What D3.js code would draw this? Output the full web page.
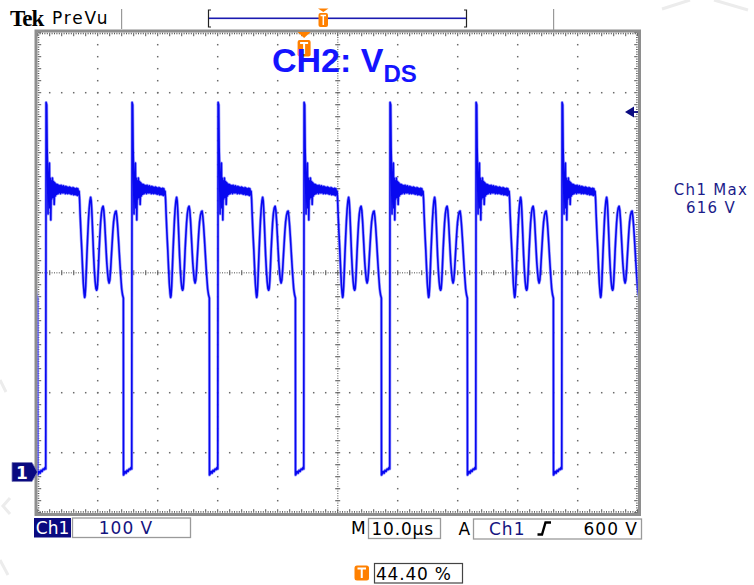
<!DOCTYPE html>
<html><head><meta charset="utf-8">
<script src="https://cdn.jsdelivr.net/npm/d3@7"></script>
<style>html,body{margin:0;padding:0;background:#fff;} svg{display:block;}</style>
</head><body>
<svg id="c" width="754" height="585"></svg>
<script>
// ---------------- data ----------------
const timeDomain = [-44.4, 55.6];      // µs : 10 div x 10.0 µs, trigger at 44.40 %
const voltDomain = [-67.8, 732.2];     // V  : 8 div x 100 V, ground at marker "1"
const xDivisions = 10, yDivisions = 8;
// rising edges of the drain-source voltage (µs)
const cycleStarts = [-57.33, -43.0, -28.67, -14.33, 0.0, 14.33, 28.67, 43.0];
// one switching cycle, time offset from rising edge (µs)
const cycleT = [-0.06, 0, 0.1, 0.17, 0.25, 0.32, 0.4, 0.47, 0.55, 0.62, 0.7, 0.78, 0.87, 0.95, 1.05, 1.15, 1.25, 1.35, 1.45, 1.55, 1.65, 1.77, 1.9,
  2.0, 2.1, 2.2, 2.3, 2.4, 2.5, 2.6, 2.7, 2.8, 2.9, 3.0, 3.1, 3.2, 3.3, 3.4, 3.5, 3.6, 3.7, 3.8, 3.9,
  4.0, 4.1, 4.2, 4.3, 4.4, 4.5, 4.6, 4.7, 4.8, 4.9, 5.0, 5.1, 5.2, 5.3, 5.4, 5.5,
  5.58, 5.67, 5.8, 5.95, 6.08, 6.2, 6.33, 6.42, 6.5, 6.6, 6.7, 6.8, 6.92, 7.05, 7.17, 7.3, 7.42, 7.52, 7.62, 7.72, 7.82, 7.92,
  8.05, 8.17, 8.3, 8.42, 8.52, 8.62, 8.72, 8.83, 8.95, 9.08, 9.2, 9.35, 9.5, 9.62, 9.75, 9.87, 10.0, 10.12, 10.25, 10.37, 10.5,
  10.62, 10.75, 10.87, 11.0, 11.12, 11.25, 11.4, 11.55, 11.67, 11.8, 11.92, 12.05, 12.17, 12.3, 12.45, 12.6, 12.75, 12.88,
  12.9, 13.0, 13.17, 13.33, 13.5, 13.67, 13.83, 14.0, 14.17, 14.25];
// drain-source voltage for the same points (V)
const cycleV = [5, 616, 612, 540, 505, 430, 500, 455, 515, 440, 490, 420, 485, 455, 490, 458, 484, 446, 482, 460, 480, 463, 479,
  464, 478, 466, 477, 464, 478, 466, 476, 465, 477, 466, 475, 464, 476, 465, 475, 464, 474, 465, 475,
  464, 474, 463, 473, 464, 474, 462, 473, 463, 472, 462, 473, 461, 472, 462, 468,
  455, 430, 400, 370, 340, 315, 298, 291, 294, 310, 335, 362, 390, 418, 438, 452, 458, 452, 435, 410, 385, 360,
  335, 318, 306, 303, 306, 320, 342, 368, 392, 415, 430, 440, 443, 436, 418, 395, 370, 348, 332, 320, 315,
  320, 336, 358, 380, 400, 417, 428, 434, 435, 425, 410, 390, 370, 348, 325, 305, 295, 290,
  -5, -3, 1, -2, 3, 1, 5, 4, 8, 7];
const trigLevelV = 600;
const titleMain = "CH2: V", titleSub = "DS";
const maxLabel = ["Ch1 Max", "616 V"];
const ch1Label = "Ch1", ch1Scale = "100 V";
const timeBase = "10.0µs", trigSource = "Ch1", trigLevelLabel = "600 V", trigPos = "44.40 %";

// ---------------- drawing ----------------
const svg = d3.select("#c");
const X0 = 37.7, X1 = 637.7, Y0 = 32.7, Y1 = 512.7;
const x = d3.scaleLinear().domain(timeDomain).range([X0, X1]);
const y = d3.scaleLinear().domain(voltDomain).range([Y1, Y0]);
const xd = d3.scaleLinear().domain([0, xDivisions]).range([X0, X1]);
const yd = d3.scaleLinear().domain([0, yDivisions]).range([Y1, Y0]);

// faint background artefacts
const bg = svg.append("g").attr("stroke", "#ececec").attr("stroke-width", 3).attr("fill", "none");
bg.append("path").attr("d", "M662,9 L690,0 M714,0 L748,10");
bg.append("path").attr("d", "M10,498 L3,506 L10,514 M0,560 L8,575 M0,380 L6,392");

// grid dots
const grid = svg.append("g").attr("fill", "#6a6a6a");
for (let k = 1; k < xDivisions; k++) {
  if (k === xDivisions / 2) continue;
  for (let j = 1; j < yDivisions * 5; j++) {
    grid.append("rect").attr("x", xd(k) - 0.75).attr("y", yd(j / 5) - 0.75).attr("width", 1.5).attr("height", 1.5);
  }
}
for (let k = 1; k < yDivisions; k++) {
  if (k === yDivisions / 2) continue;
  for (let j = 1; j < xDivisions * 5; j++) {
    grid.append("rect").attr("x", xd(j / 5) - 0.75).attr("y", yd(k) - 0.75).attr("width", 1.5).attr("height", 1.5);
  }
}
// centre cross lines (dense dots + ticks)
const cx = xd(xDivisions / 2), cy = yd(yDivisions / 2);
for (let j = 0; j <= xDivisions * 25; j++) {
  grid.append("rect").attr("x", xd(j / 25) - 0.5).attr("y", cy - 0.5).attr("width", 1).attr("height", 1.2);
}
for (let j = 0; j <= yDivisions * 25; j++) {
  grid.append("rect").attr("x", cx - 0.5).attr("y", yd(j / 25) - 0.5).attr("width", 1.2).attr("height", 1);
}
for (let j = 1; j < xDivisions * 5; j++) {
  grid.append("rect").attr("x", xd(j / 5) - 0.6).attr("y", cy - 2.5).attr("width", 1.2).attr("height", 5);
}
for (let j = 1; j < yDivisions * 5; j++) {
  grid.append("rect").attr("x", cx - 2.5).attr("y", yd(j / 5) - 0.6).attr("width", 5).attr("height", 1.2);
}
// border ticks
const bt = svg.append("g").attr("fill", "#555");
for (let j = 0; j <= xDivisions * 25; j++) {
  const major = j % 5 === 0, L = major ? 3.5 : 1.6;
  bt.append("rect").attr("x", xd(j / 25) - 0.5).attr("y", Y0).attr("width", 1).attr("height", L);
  bt.append("rect").attr("x", xd(j / 25) - 0.5).attr("y", Y1 - L).attr("width", 1).attr("height", L);
}
for (let j = 0; j <= yDivisions * 25; j++) {
  const major = j % 5 === 0, L = major ? 3.5 : 1.6;
  bt.append("rect").attr("x", X0).attr("y", yd(j / 25) - 0.5).attr("width", L).attr("height", 1);
  bt.append("rect").attr("x", X1 - L).attr("y", yd(j / 25) - 0.5).attr("width", L).attr("height", 1);
}
// frame
svg.append("rect").attr("x", 36).attr("y", 31).attr("width", 603.5).attr("height", 483.5)
  .attr("fill", "none").attr("stroke", "#8e8e8e").attr("stroke-width", 3);

// waveform
const trace = [];
cycleStarts.forEach(s => cycleT.forEach((t, i) => trace.push([s + t, cycleV[i]])));
svg.append("clipPath").attr("id", "plotclip").append("rect")
  .attr("x", X0).attr("y", Y0).attr("width", X1 - X0).attr("height", Y1 - Y0);
const line = d3.line().x(d => x(d[0])).y(d => y(d[1]));
const wg = svg.append("g").attr("clip-path", "url(#plotclip)");
wg.append("path").datum(trace).attr("d", line).attr("fill", "none")
  .attr("stroke", "#7a7aff").attr("stroke-width", 3).attr("stroke-opacity", 0.7).attr("stroke-linejoin", "round");
wg.append("path").datum(trace).attr("d", line).attr("fill", "none")
  .attr("stroke", "#0808f0").attr("stroke-width", 1.6).attr("stroke-linejoin", "round");

// trigger level arrow (right)
const ty = y(trigLevelV);
svg.append("path").attr("d", `M625,${ty} L634,${ty - 5.5} L634,${ty + 5.5} Z`).attr("fill", "#0a0a80");
svg.append("rect").attr("x", 633).attr("y", ty - 0.9).attr("width", 5).attr("height", 1.8).attr("fill", "#0a0a80");

// ground marker "1"
const gy = y(0);
svg.append("path").attr("d", `M12,${gy - 9.5} L32,${gy - 9.5} L37.5,${gy} L32,${gy + 9.5} L12,${gy + 9.5} Z`)
  .attr("fill", "#0a0a80").attr("stroke", "#7a7ab8").attr("stroke-width", 0.8);
svg.append("text").attr("x", 22).attr("y", gy + 6.5).attr("text-anchor", "middle")
  .attr("font-family", "DejaVu Sans").attr("font-weight", "bold").attr("font-size", 17).attr("fill", "#fff").text("1");

// trigger position marker in the plot
const tx = x(0);
svg.append("path").attr("d", `M${tx - 6.5},32 L${tx + 6.5},32 L${tx},38 Z`).attr("fill", "#ff8000");
svg.append("rect").attr("x", tx - 6.5).attr("y", 40).attr("width", 13).attr("height", 16.5).attr("rx", 2).attr("fill", "#ff8000");
svg.append("path").attr("d", `M${tx - 4},43 H${tx + 4} M${tx},43 V54`).attr("stroke", "#fff").attr("stroke-width", 2);

// title
const title = svg.append("text").attr("x", 272).attr("y", 72).attr("fill", "#1414ff")
  .attr("font-family", "Liberation Sans, Arial, sans-serif").attr("font-weight", "bold").attr("font-size", 34);
title.append("tspan").text(titleMain);
title.append("tspan").attr("dy", 10).attr("font-size", 24).text(titleSub);

// ---- top status bar ----
svg.append("text").attr("x", 10).attr("y", 26).attr("font-family", "Liberation Serif, serif").attr("font-weight", "bold")
  .attr("font-size", 23).attr("letter-spacing", -1).attr("fill", "#000").text("Tek");
svg.append("text").attr("x", 52).attr("y", 24).attr("font-family", "DejaVu Sans").attr("font-size", 17)
  .attr("letter-spacing", 1.8).attr("fill", "#000").text("PreVu");
svg.append("rect").attr("x", 121).attr("y", 9).attr("width", 1.2).attr("height", 20).attr("fill", "#999");
svg.append("rect").attr("x", 553).attr("y", 9).attr("width", 1.2).attr("height", 21).attr("fill", "#999");
// record window
const rb = svg.append("g");
rb.append("path").attr("d", "M211,10 H208.5 V27 H211").attr("fill", "none").attr("stroke", "#222").attr("stroke-width", 1.2);
rb.append("path").attr("d", "M464,10 H466.5 V27 H464").attr("fill", "none").attr("stroke", "#222").attr("stroke-width", 1.2);
rb.append("rect").attr("x", 209).attr("y", 17.5).attr("width", 257).attr("height", 1.6).attr("fill", "#1a1ab0");
rb.append("path").attr("d", "M318,8.5 L328.5,8.5 L323.3,12 Z").attr("fill", "#ff8000");
rb.append("rect").attr("x", 318.5).attr("y", 13).attr("width", 9.5).attr("height", 14).attr("rx", 2).attr("fill", "#ff8000");
rb.append("path").attr("d", "M320.5,15.5 H326 M323.3,15.5 V25").attr("stroke", "#fff").attr("stroke-width", 1.5);

// ---- right readout ----
const ui = "DejaVu Sans";
svg.append("text").attr("x", 711).attr("y", 195).attr("text-anchor", "middle").attr("font-family", ui)
  .attr("font-size", 15).attr("letter-spacing", 1.3).attr("fill", "#1c1c8a").text(maxLabel[0]);
svg.append("text").attr("x", 711).attr("y", 212.5).attr("text-anchor", "middle").attr("font-family", ui)
  .attr("font-size", 15).attr("letter-spacing", 1.3).attr("fill", "#1c1c8a").text(maxLabel[1]);

// ---- bottom readout ----
const bb = svg.append("g").attr("font-family", ui).attr("font-size", 17).attr("letter-spacing", 1);
bb.append("rect").attr("x", 34).attr("y", 518).attr("width", 37).attr("height", 19.5).attr("fill", "#0a0a80");
bb.append("text").attr("x", 52.5).attr("y", 534).attr("text-anchor", "middle").attr("letter-spacing", 0).attr("fill", "#fff").text(ch1Label);
bb.append("rect").attr("x", 72.5).attr("y", 518).attr("width", 118).attr("height", 19.5).attr("fill", "#fff").attr("stroke", "#9a9a9a").attr("stroke-width", 1.3);
bb.append("text").attr("x", 126).attr("y", 534).attr("text-anchor", "middle").attr("fill", "#141480").text(ch1Scale);
bb.append("text").attr("x", 351).attr("y", 534).attr("fill", "#000").attr("letter-spacing", 0).text("M");
bb.append("rect").attr("x", 368.5).attr("y", 518.5).attr("width", 72).attr("height", 20).attr("fill", "#fff").attr("stroke", "#9a9a9a").attr("stroke-width", 1.3);
bb.append("text").attr("x", 371.5).attr("y", 535).attr("fill", "#000").attr("letter-spacing", 0.8).text(timeBase);
bb.append("text").attr("x", 458.5).attr("y", 535).attr("fill", "#000").text("A");
bb.append("rect").attr("x", 473.5).attr("y", 519).attr("width", 168).attr("height", 20).attr("fill", "#fff").attr("stroke", "#9a9a9a").attr("stroke-width", 1.3);
bb.append("text").attr("x", 489).attr("y", 535).attr("fill", "#141480").text(trigSource);
bb.append("path").attr("d", "M537.5,534.5 H542 L545.5,522.5 H551").attr("fill", "none").attr("stroke", "#000").attr("stroke-width", 2.4);
bb.append("text").attr("x", 638).attr("y", 535).attr("text-anchor", "end").attr("fill", "#000").text(trigLevelLabel);
// trigger position readout
bb.append("rect").attr("x", 354.5).attr("y", 565.5).attr("width", 14.5).attr("height", 15).attr("rx", 2.5).attr("fill", "#ff8000");
bb.append("path").attr("d", "M357.5,568.5 H366 M361.75,568.5 V578").attr("stroke", "#fff").attr("stroke-width", 2);
bb.append("rect").attr("x", 374.5).attr("y", 563.5).attr("width", 88).attr("height", 19.5).attr("fill", "#fff").attr("stroke", "#444").attr("stroke-width", 1.2);
bb.append("text").attr("x", 376).attr("y", 580).attr("fill", "#000").attr("letter-spacing", 0.8).text(trigPos);
</script>
</body></html>
